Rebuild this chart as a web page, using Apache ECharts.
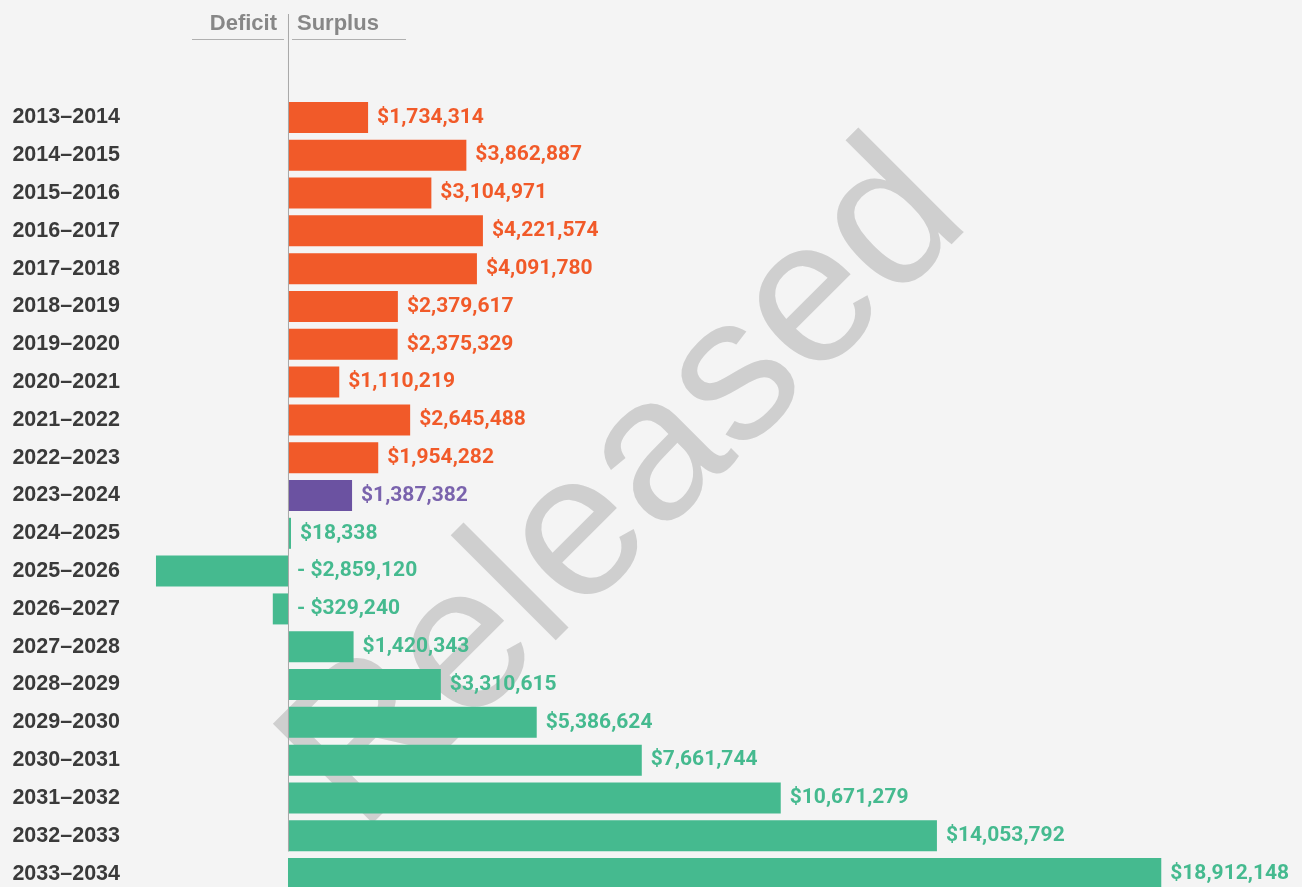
<!DOCTYPE html>
<html>
<head>
<meta charset="utf-8">
<title>Deficit / Surplus</title>
<script src="https://cdn.jsdelivr.net/npm/echarts@6/dist/echarts.min.js"></script>
<style>
  html, body { margin: 0; padding: 0; background: #f4f4f4; overflow: hidden; }
  #main { width: 1302px; height: 900px; }
</style>
</head>
<body>
<div id="main"></div>
<script>
const years = [
  '2013–2014', '2014–2015', '2015–2016', '2016–2017', '2017–2018', '2018–2019',
  '2019–2020', '2020–2021', '2021–2022', '2022–2023', '2023–2024', '2024–2025',
  '2025–2026', '2026–2027', '2027–2028', '2028–2029', '2029–2030', '2030–2031',
  '2031–2032', '2032–2033', '2033–2034'
]
const balance = [
  1734314, 3862887, 3104971, 4221574, 4091780, 2379617,
  2375329, 1110219, 2645488, 1954282, 1387382, 18338,
  -2859120, -329240, 1420343, 3310615, 5386624, 7661744,
  10671279, 14053792, 18912148
]
// actual years, the current year, projected years
const period = [
  'actual', 'actual', 'actual', 'actual', 'actual', 'actual',
  'actual', 'actual', 'actual', 'actual', 'current', 'projected',
  'projected', 'projected', 'projected', 'projected', 'projected', 'projected',
  'projected', 'projected', 'projected'
]
const colors = { actual: '#f15a29', current: '#6b52a1', projected: '#45ba8f' }
const labelColors = { actual: '#f15a29', current: '#7a63ad', projected: '#45ba8f' }

function money (v) {
  const s = '$' + Math.abs(v).toLocaleString('en-US')
  return v < 0 ? '- ' + s : s
}

const chart = echarts.init(document.getElementById('main'))

const option = {
  backgroundColor: '#f4f4f4',
  animation: false,
  grid: { left: 131, right: 12, top: 98.5, height: 794 },
  xAxis: {
    type: 'value',
    min: -3400000,
    max: 21700000,
    show: false
  },
  yAxis: {
    type: 'category',
    data: years,
    inverse: true,
    axisLine: { show: false },
    axisTick: { show: false },
    axisLabel: {
      margin: 11,
      color: '#3a3a3a',
      fontFamily: 'Liberation Sans',
      fontWeight: 'bold',
      fontSize: 21.5
    }
  },
  series: [{
    type: 'bar',
    barWidth: 31,
    barMinHeight: 3,
    data: balance.map((v, i) => ({
      value: v,
      itemStyle: { color: colors[period[i]] },
      label: { color: labelColors[period[i]] }
    })),
    label: {
      show: true,
      position: 'right',
      distance: 9,
      fontFamily: 'Roboto',
      fontWeight: 'bold',
      fontSize: 21,
      formatter: p => money(p.value)
    }
  }]
}
chart.setOption(option)

const x0 = chart.convertToPixel({ xAxisIndex: 0 }, 0)
// zero line runs down to the bottom of the second-to-last bar
const yEnd = chart.convertToPixel({ yAxisIndex: 0 }, years[years.length - 2]) + 15.5

chart.setOption({
  graphic: [
    {
      type: 'text',
      z: -10,
      silent: true,
      x: 627,
      y: 489,
      rotation: 45 * Math.PI / 180,
      style: {
        text: 'Released',
        fill: '#cfcfcf',
        font: '205px "Liberation Sans"',
        align: 'center',
        verticalAlign: 'middle'
      }
    },
    {
      type: 'line',
      z: 10,
      silent: true,
      shape: { x1: x0 + 0.5, y1: 14, x2: x0 + 0.5, y2: yEnd },
      style: { stroke: '#a8a8a8', lineWidth: 1 }
    },
    {
      type: 'line',
      silent: true,
      shape: { x1: 192, y1: 39.5, x2: x0 - 4, y2: 39.5 },
      style: { stroke: '#b0b0b0', lineWidth: 1 }
    },
    {
      type: 'line',
      silent: true,
      shape: { x1: x0 + 4, y1: 39.5, x2: 406, y2: 39.5 },
      style: { stroke: '#b0b0b0', lineWidth: 1 }
    },
    {
      type: 'text',
      silent: true,
      x: x0 - 11,
      y: 24,
      style: {
        text: 'Deficit',
        fill: '#878787',
        font: 'bold 22px "Liberation Sans"',
        align: 'right',
        verticalAlign: 'middle'
      }
    },
    {
      type: 'text',
      silent: true,
      x: x0 + 9,
      y: 24,
      style: {
        text: 'Surplus',
        fill: '#878787',
        font: 'bold 22px "Liberation Sans"',
        align: 'left',
        verticalAlign: 'middle'
      }
    }
  ]
})

window.addEventListener('resize', () => {
  chart.resize()
})
</script>
</body>
</html>
